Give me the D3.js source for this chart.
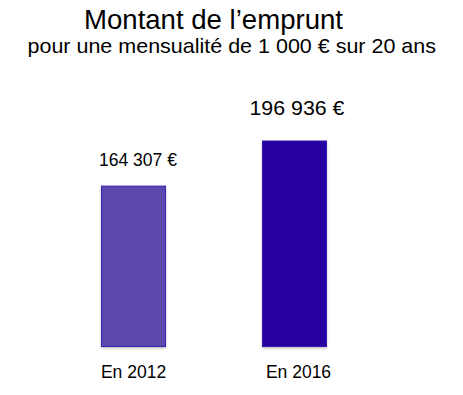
<!DOCTYPE html>
<html>
<head>
<meta charset="utf-8">
<script src="https://cdn.jsdelivr.net/npm/d3@7"></script>
<style>
  html, body { margin: 0; padding: 0; background: #fff; }
  svg { display: block; font-family: "Liberation Sans", Arial, Helvetica, sans-serif; }
</style>
</head>
<body>
<svg id="chart" width="463" height="395"></svg>
<script>
// ---- data ----
const categories = ["En 2012", "En 2016"];
const amounts = [164307, 196936];
const valueLabels = ["164 307 €", "196 936 €"];
const barColors = ["#5b46ae", "#2500a0"];
const barStrokes = ["#3c22b4", "#3818b4"];
const titleText = "Montant de l’emprunt";
const subtitleText = "pour une mensualité de 1 000 € sur 20 ans";
const axisMin = 48300;

// ---- layout ----
const baseY = 346.5;
const svg = d3.select("#chart");

const defs = svg.append("defs");
const f = defs.append("filter").attr("id", "shadow").attr("x", "-10%").attr("y", "-10%").attr("width", "120%").attr("height", "120%");
f.append("feDropShadow").attr("dx", 0).attr("dy", 1.5).attr("stdDeviation", 1).attr("flood-color", "#000").attr("flood-opacity", 0.25);

const x = d3.scaleBand()
  .domain(categories)
  .range([20.5, 407.5])
  .paddingInner(0.596)
  .paddingOuter(0.5);

const y = d3.scaleLinear()
  .domain([axisMin, 196936])
  .range([baseY, 141]);

// title
svg.append("text")
  .attr("x", 84).attr("y", 29)
  .attr("font-size", 27.5)
  .attr("textLength", 259).attr("lengthAdjust", "spacingAndGlyphs")
  .attr("fill", "#000")
  .text(titleText);

svg.append("text")
  .attr("x", 27.5).attr("y", 53)
  .attr("font-size", 21)
  .attr("textLength", 408.5).attr("lengthAdjust", "spacingAndGlyphs")
  .attr("fill", "#000")
  .text(subtitleText);

// bars
const data = categories.map((c, i) => ({ c, v: amounts[i], label: valueLabels[i], fill: barColors[i], stroke: barStrokes[i], i }));

svg.append("g").selectAll("rect")
  .data(data)
  .join("rect")
  .attr("x", d => x(d.c) + 0.5)
  .attr("y", d => y(d.v))
  .attr("width", x.bandwidth() - 1)
  .attr("height", d => baseY - y(d.v))
  .attr("fill", d => d.fill)
  .attr("stroke", d => d.stroke)
  .attr("stroke-width", 1)
  .attr("filter", "url(#shadow)");

// value labels
const labelStyle = [
  { size: 17.5, len: 78, dy: -20.5, dx: 4.5 },
  { size: 21, len: 95, dy: -26.5, dx: 2.5 }
];
svg.append("g").selectAll("text")
  .data(data)
  .join("text")
  .attr("x", d => x(d.c) + x.bandwidth() / 2 + labelStyle[d.i].dx)
  .attr("y", d => y(d.v) + labelStyle[d.i].dy)
  .attr("text-anchor", "middle")
  .attr("font-size", d => labelStyle[d.i].size)
  .attr("textLength", d => labelStyle[d.i].len).attr("lengthAdjust", "spacingAndGlyphs")
  .attr("fill", "#000")
  .text(d => d.label);

// category axis (no line, no ticks)
const axis = svg.append("g")
  .attr("transform", `translate(0,${baseY})`)
  .call(d3.axisBottom(x).tickSize(0).tickPadding(19));
axis.select(".domain").remove();
axis.selectAll("text")
  .attr("font-size", 17.5)
  .attr("font-family", "Liberation Sans, Arial, sans-serif")
  .attr("fill", "#000")
  .attr("dy", "0.71em")
  .attr("dx", (d, i) => i === 1 ? 4 : 0);
</script>
</body>
</html>
